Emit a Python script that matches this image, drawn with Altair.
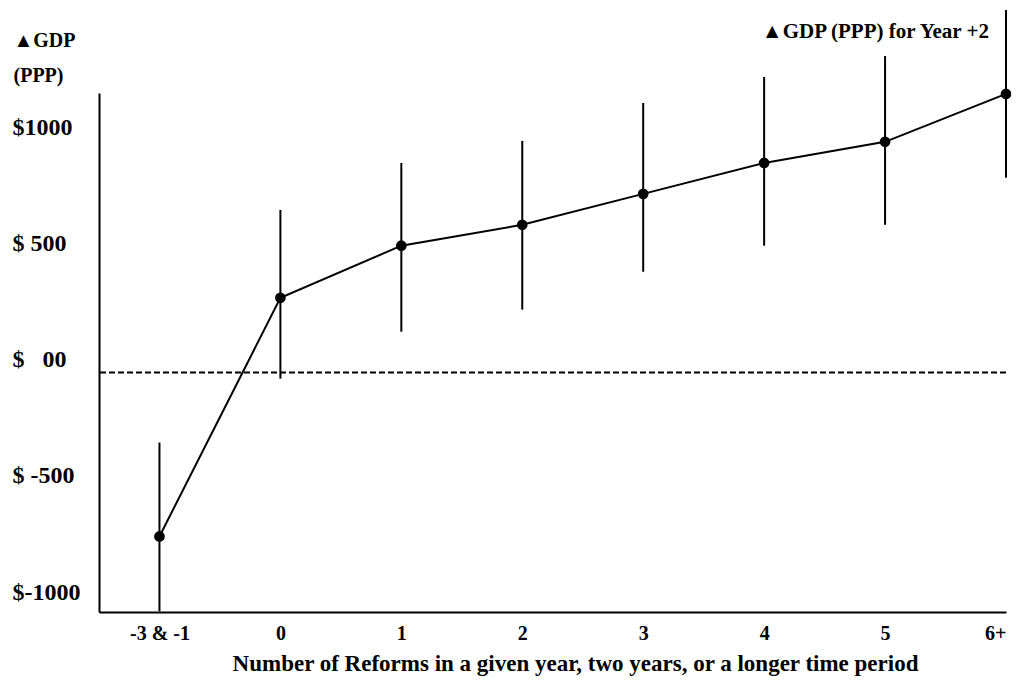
import json
import altair as alt
import pandas as pd

# ---- data ----
categories = ["-3 & -1", "0", "1", "2", "3", "4", "5", "6+"]
gdp_change = [-705, 322, 546, 636, 769, 902, 993, 1199]
ci_low = [-1027, -26, 176, 271, 434, 546, 636, 838]
ci_high = [-301, 700, 902, 997, 1160, 1272, 1362, 1560]

y_tick_values = [-1000, -500, 0, 500, 1000]
y_tick_labels = ["$-1000", "$\u00a0-500", "$\u00a0\u00a0\u00a000", "$\u00a0500", "$1000"]

annotation = "\u25b2GDP (PPP) for Year +2"

FONT = "Liberation Serif"

df = pd.DataFrame({
    "idx": list(range(len(categories))),
    "category": categories,
    "gdp": gdp_change,
    "lo": ci_low,
    "hi": ci_high,
})

x_label_expr = json.dumps(categories) + "[datum.value]"
y_label_expr = (json.dumps(y_tick_labels) + "[indexof(" + json.dumps(y_tick_values) + ", datum.value)]")

x_enc = alt.X(
    "idx:Q",
    scale=alt.Scale(domain=[-0.5, 7], nice=False, zero=False),
    axis=alt.Axis(
        values=list(range(len(categories))),
        labelExpr=x_label_expr,
        title="Number of Reforms in a given year, two years, or a longer time period",
        ticks=False, grid=False,
        domainColor="black", domainWidth=2,
        labelFont=FONT, labelFontSize=20, labelFontWeight="bold", labelColor="black",
        labelPadding=11,
        titleFont=FONT, titleFontSize=23, titleFontWeight="bold", titleColor="black",
        titlePadding=9, titleX=476,
    ),
)

y_scale = alt.Scale(domain=[-1030, 1203], nice=False, zero=False)
y_axis = alt.Axis(
    values=y_tick_values,
    labelExpr=y_label_expr,
    ticks=False, grid=False,
    domainColor="black", domainWidth=2,
    labelFont=FONT, labelFontSize=24, labelFontWeight="bold", labelColor="black",
    labelAlign="left", labelPadding=87, labelOffset=-13,
    title=["\u25b2GDP", "(PPP)"],
    titleAngle=0, titleAlign="left", titleBaseline="top",
    titleX=-86, titleY=-63, titleLineHeight=35,
    titleFont=FONT, titleFontSize=20, titleFontWeight="bold", titleColor="black",
)

base = alt.Chart(df)

bars = base.mark_rule(color="black", strokeWidth=2).encode(
    x=x_enc,
    y=alt.Y("lo:Q", scale=y_scale, axis=y_axis),
    y2="hi:Q",
)

line = base.mark_line(color="black", strokeWidth=2).encode(
    x="idx:Q",
    y="gdp:Q",
)

points = base.mark_circle(color="black", opacity=1, size=115).encode(
    x="idx:Q",
    y="gdp:Q",
)

zero_line = alt.Chart(pd.DataFrame({"z": [0]})).mark_rule(
    color="black", strokeWidth=2, strokeDash=[6, 3]
).encode(y="z:Q")

note = alt.Chart(pd.DataFrame({"t": [annotation]})).mark_text(
    font=FONT, fontSize=21, fontWeight="bold", color="black",
    align="right", baseline="middle",
).encode(text="t:N", x=alt.value(890), y=alt.value(-61))

chart = alt.layer(bars, zero_line, line, points, note).properties(
    width=907,
    height=519,
    background="white",
    autosize=alt.AutoSizeParams(type="none"),
    padding={"left": 91, "top": 85, "right": 5, "bottom": 66},
).configure_view(strokeWidth=0, stroke=None)

chart.save("out.html", embed_options={"renderer": "svg", "actions": False})
